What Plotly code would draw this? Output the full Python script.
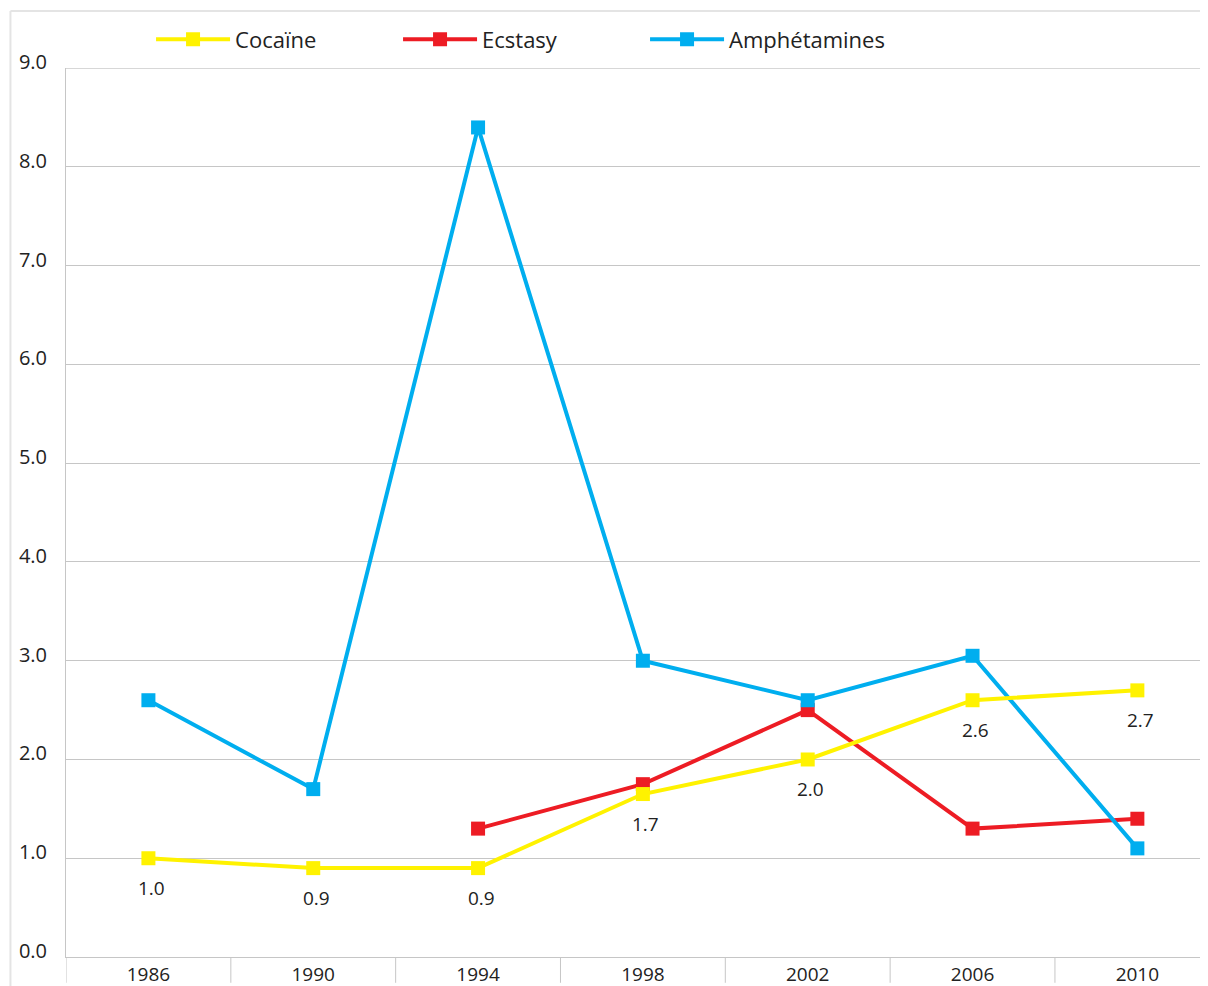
import plotly.graph_objects as go

years = ["1986", "1990", "1994", "1998", "2002", "2006", "2010"]
cocaine = [1.0, 0.9, 0.9, 1.65, 2.0, 2.6, 2.7]
cocaine_labels = ["1.0", "0.9", "0.9", "1.7", "2.0", "2.6", "2.7"]
ecstasy = [None, None, 1.3, 1.75, 2.5, 1.3, 1.4]
amphet = [2.6, 1.7, 8.4, 3.0, 2.6, 3.05, 1.1]
yticks = [0, 1, 2, 3, 4, 5, 6, 7, 8, 9]
ytick_text = ["0.0", "1.0", "2.0", "3.0", "4.0", "5.0", "6.0", "7.0", "8.0", "9.0"]

YELLOW = "#FFF200"
RED = "#ED1C24"
BLUE = "#00AEEF"
GRID = "#C6C6C6"
FONT = "Open Sans"
TXT = "#222222"

fig = go.Figure()
fig.add_trace(go.Scatter(x=years, y=ecstasy, name="Ecstasy", mode="lines+markers",
                         line=dict(color=RED, width=4),
                         marker=dict(symbol="square", size=14, color=RED),
                         legendrank=2))
fig.add_trace(go.Scatter(x=years, y=amphet, name="Amphétamines", mode="lines+markers",
                         line=dict(color=BLUE, width=4),
                         marker=dict(symbol="square", size=14, color=BLUE),
                         legendrank=3))
fig.add_trace(go.Scatter(x=years, y=cocaine, name="Cocaïne", mode="lines+markers",
                         line=dict(color=YELLOW, width=4),
                         marker=dict(symbol="square", size=14, color=YELLOW),
                         legendrank=1))

for i, (yv, t) in enumerate(zip(cocaine, cocaine_labels)):
    fig.add_annotation(x=i, y=yv, text=t, showarrow=False, yshift=-30, xshift=3,
                       font=dict(family=FONT, size=19, color=TXT))

shapes = []
# category separators below the x axis
for i in range(len(years) + 1):
    shapes.append(dict(type="line", xref="x", yref="paper", x0=i - 0.5, x1=i - 0.5,
                       y0=0, y1=-0.029, line=dict(color=GRID, width=1)))
# top gridline at the axis maximum
shapes.append(dict(type="line", xref="paper", yref="y", x0=0, x1=1,
                   y0=yticks[-1], y1=yticks[-1], line=dict(color=GRID, width=1),
                   layer="below"))
# outer frame
shapes.append(dict(type="line", xref="paper", yref="paper", x0=-0.049, x1=1.0,
                   y0=1.064, y1=1.064, line=dict(color="#E4E4E4", width=2)))
shapes.append(dict(type="line", xref="paper", yref="paper", x0=-0.049, x1=-0.049,
                   y0=1.064, y1=-0.04, line=dict(color="#E4E4E4", width=2)))
fig.update_layout(shapes=shapes)

fig.update_layout(
    width=1192, height=978,
    margin=dict(l=58, r=0, t=60, b=29),
    paper_bgcolor="white", plot_bgcolor="white",
    font=dict(family=FONT, size=19, color=TXT),
    showlegend=True,
    legend=dict(orientation="h", x=0.075, xanchor="left", y=1.032, yanchor="middle",
                font=dict(family=FONT, size=22, color=TXT),
                entrywidth=158, entrywidthmode="pixels", itemwidth=74,
                bgcolor="rgba(0,0,0,0)"),
    xaxis=dict(type="category", range=[-0.5, 6.38], showgrid=False, automargin=False,
               showline=True, linecolor=GRID, linewidth=1, ticks="",
               tickfont=dict(family=FONT, size=19, color=TXT), fixedrange=True),
    yaxis=dict(range=[0, 9.002], tickvals=yticks, ticktext=ytick_text, showgrid=True,
               gridcolor=GRID, gridwidth=1, zeroline=False, showline=True,
               linecolor=GRID, linewidth=1, ticks="", automargin=False,
               ticklabelstandoff=14, ticklabelshift=-6,
               tickfont=dict(family=FONT, size=20, color=TXT)),
)

fig.write_html("out.html")
